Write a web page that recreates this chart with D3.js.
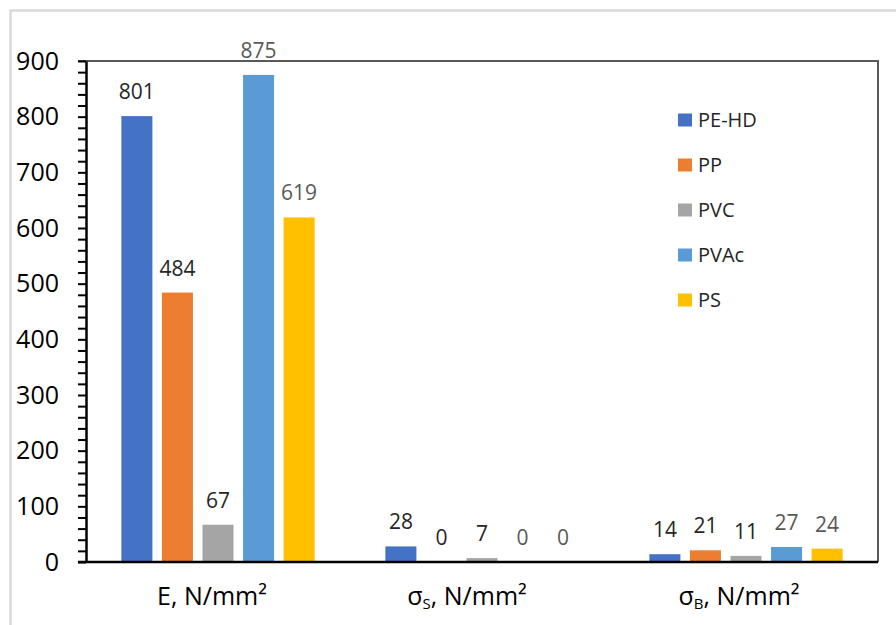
<!DOCTYPE html>
<html><head><meta charset="utf-8">
<script src="https://cdn.jsdelivr.net/npm/d3@7"></script>
<style>body{margin:0;background:#fff}svg{display:block;font-family:"Open Sans",sans-serif}</style>
</head><body>
<svg id="c" width="896" height="625"></svg>
<script>
const categories = ["E", "σS", "σB"];
const series = ["PE-HD", "PP", "PVC", "PVAc", "PS"];
const colors = ["#4472C4", "#ED7D31", "#A5A5A5", "#5B9BD5", "#FFC000"];
const valuesE = [801, 484, 67, 875, 619];
const valuesSigmaS = [28, 0, 7, 0, 0];
const valuesSigmaB = [14, 21, 11, 27, 24];
const yTicks = d3.range(0, 901, 20);

const values = [valuesE, valuesSigmaS, valuesSigmaB];
const svg = d3.select("#c");
const L = 86, R = 878, T = 61, B = 562;

// outer frame
svg.append("path").attr("d", "M10.5,625V10.5H896").attr("fill", "none").attr("stroke", "#d9d9d9").attr("stroke-width", 2.5);

const x0 = d3.scaleBand().domain(categories).range([L, R]).padding(0);
const bw = x0.bandwidth();
const x1 = d3.scaleBand().domain(series).range([bw * 0.134, bw * 0.866]).paddingInner(0.235);
const y = d3.scaleLinear().domain([0, 900]).range([B, T]);

// plot frame top/right
svg.append("path").attr("d", `M78,${T}H${R}V${B}`).attr("fill", "none").attr("stroke", "#595959").attr("stroke-width", 2);

// bars
const g = svg.append("g");
categories.forEach((c, ci) => {
  const gg = g.append("g").attr("transform", `translate(${x0(c)},0)`);
  gg.selectAll("rect").data(values[ci]).join("rect")
    .attr("x", (d, i) => x1(series[i]))
    .attr("width", x1.bandwidth())
    .attr("y", d => y(d))
    .attr("height", d => y(0) - y(d))
    .attr("fill", (d, i) => colors[i]);
  gg.selectAll("text").data(values[ci]).join("text")
    .attr("x", (d, i) => x1(series[i]) + x1.bandwidth() / 2)
    .attr("y", d => y(d) - 17)
    .attr("text-anchor", "middle")
    .attr("font-size", 21)
    .attr("fill", (d, i) => i < 3 ? "#262626" : "#595959")
    .text(d => d);
});

// y axis
const ya = svg.append("g").attr("transform", `translate(${L},0)`)
  .call(d3.axisLeft(y).tickValues(yTicks).tickSize(8).tickSizeOuter(0).tickPadding(19)
    .tickFormat(d => d % 100 === 0 ? d : ""));
ya.select(".domain").attr("stroke", "#000").attr("stroke-width", 2.5);
ya.selectAll(".tick line").attr("stroke", "#000").attr("stroke-width", 2);
ya.selectAll(".tick text").attr("font-size", 25).attr("fill", "#000").attr("font-family", '"Open Sans",sans-serif');

// x axis line
svg.append("line").attr("x1", 78).attr("x2", R).attr("y1", B).attr("y2", B).attr("stroke", "#000").attr("stroke-width", 2.5);

// category labels
const labelShift = [-6, -15, -7];
categories.forEach((c, ci) => {
  const t = svg.append("text").attr("x", x0(c) + bw / 2 + labelShift[ci]).attr("y", 605)
    .attr("text-anchor", "middle").attr("font-size", 25).attr("fill", "#000");
  if (c.length === 1) {
    t.append("tspan").text(c + ", N/mm²");
  } else {
    t.append("tspan").text(c[0]);
    t.append("tspan").attr("font-size", 15).attr("dy", 4).text(c[1]);
    t.append("tspan").attr("dy", -4).text(", N/mm²");
  }
});

// legend
const lg = svg.append("g");
series.forEach((s, i) => {
  const yy = 120 + i * 45;
  lg.append("rect").attr("x", 678).attr("y", yy - 6.5).attr("width", 14).attr("height", 13).attr("fill", colors[i]);
  lg.append("text").attr("x", 698).attr("y", yy).attr("dy", "0.35em").attr("font-size", 20).attr("fill", "#262626").text(s);
});
</script>
</body></html>
